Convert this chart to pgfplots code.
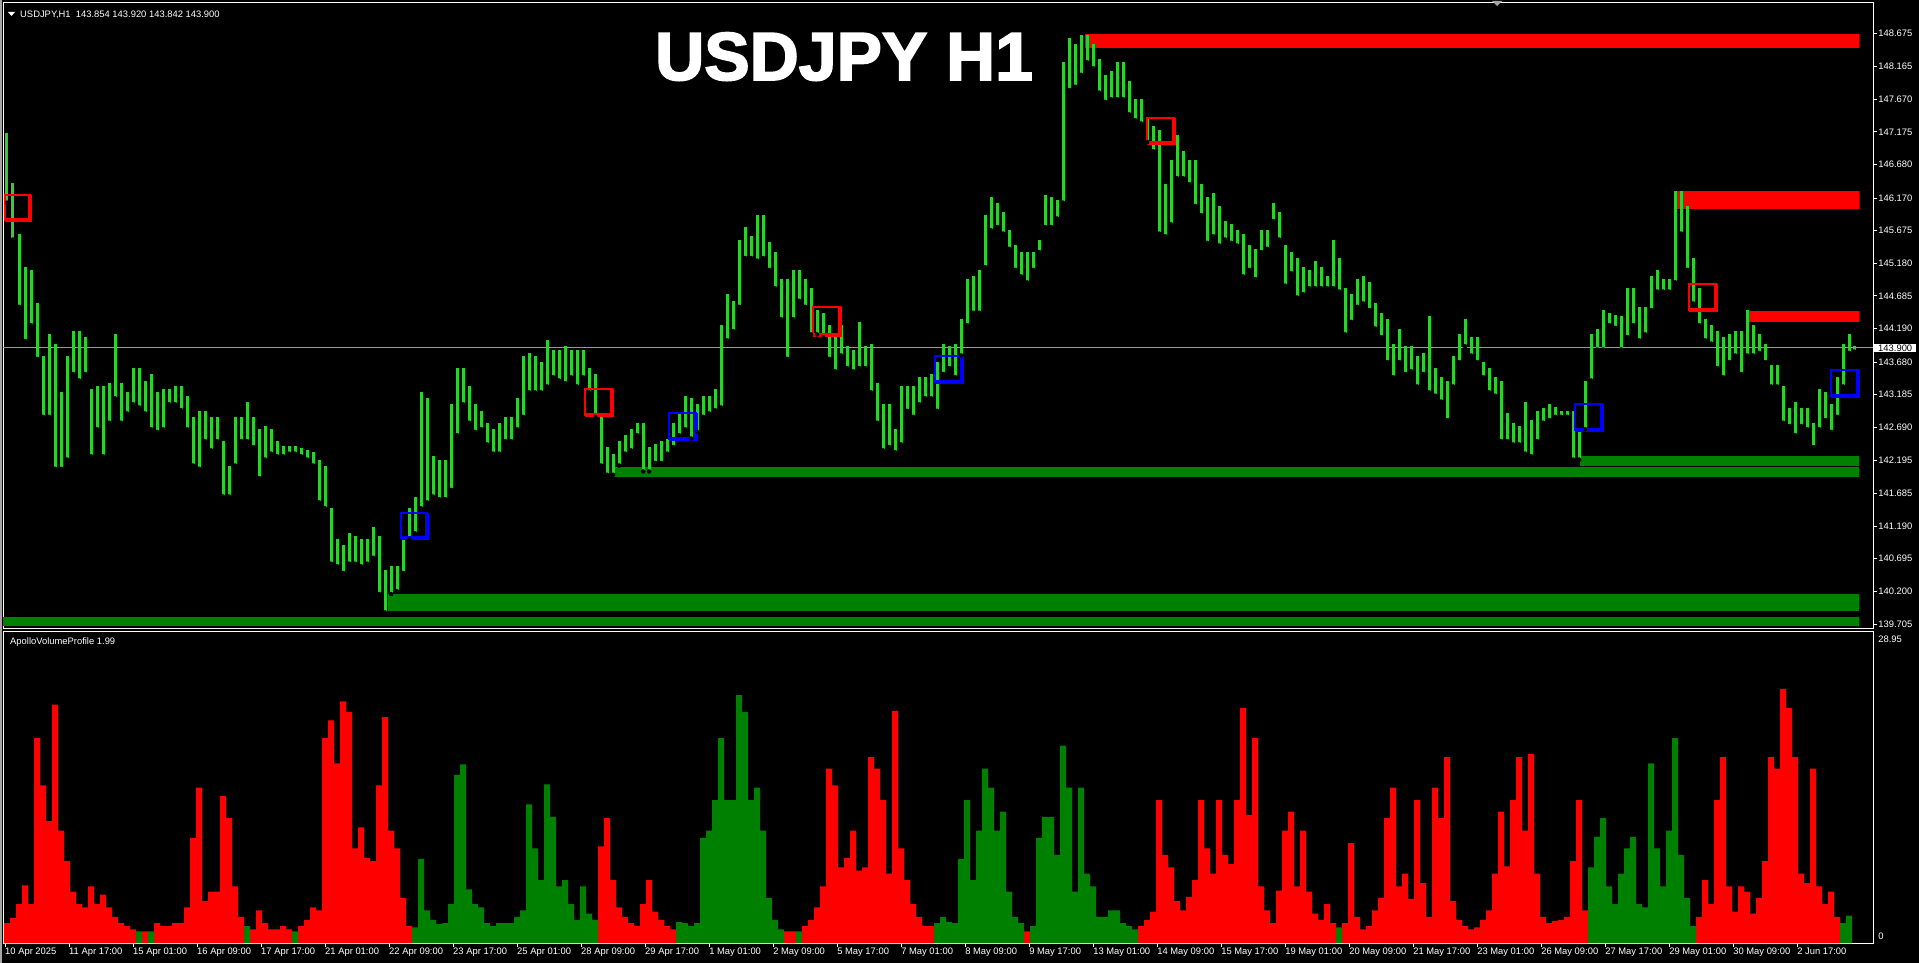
\documentclass[border=0pt]{standalone}
\usepackage{fontspec}
\setmainfont{Liberation Sans}
\newfontfamily\titlefont[FakeBold=2.5]{Liberation Sans Bold}
\usepackage{pgfplots}
\pgfplotsset{compat=1.18}
\usepackage{pgfplotstable}
\definecolor{pg}{RGB}{50,205,50}
\definecolor{zg}{RGB}{0,128,0}
\definecolor{vr}{RGB}{255,0,0}
\definecolor{bl}{RGB}{0,0,255}
\newcommand\tf{\fontsize{9.4}{10}\selectfont}

\pgfplotstableread{
x lo hi
1 146.10 147.16
4 145.54 146.40
7 144.52 145.63
10 144.00 145.12
13 144.24 145.08
16 143.73 144.57
19 142.85 143.78
22 142.85 144.10
25 142.06 143.96
28 142.06 143.22
31 142.20 143.78
34 143.50 144.15
37 143.40 144.15
40 143.50 144.06
43 142.25 143.27
46 142.66 143.31
49 142.25 143.31
52 142.76 143.36
55 143.13 144.10
58 142.76 143.36
61 142.90 143.22
64 143.04 143.59
67 142.99 143.59
70 142.90 143.40
73 142.66 143.50
76 142.62 143.22
79 142.66 143.27
82 143.04 143.27
85 143.04 143.31
88 142.95 143.31
91 142.66 143.17
94 142.11 142.85
97 142.06 142.94
100 142.48 142.94
103 142.34 142.85
106 142.48 142.85
109 141.64 142.48
112 141.64 142.11
115 142.11 142.85
118 142.48 142.85
121 142.48 143.08
124 142.39 142.85
127 141.92 142.66
130 142.20 142.71
133 142.29 142.66
136 142.25 142.48
139 142.25 142.40
142 142.29 142.40
145 142.29 142.40
148 142.25 142.38
151 142.20 142.34
154 142.11 142.31
157 141.55 142.20
160 141.46 142.11
163 140.62 141.46
166 140.58 140.99
169 140.48 140.90
172 140.62 141.08
175 140.62 141.04
178 140.58 140.99
181 140.62 140.99
184 140.71 141.18
187 140.16 141.04
190 139.88 140.53
193 140.16 140.58
196 140.20 140.58
199 140.48 140.99
202 140.99 141.46
205 141.08 141.64
208 141.46 143.22
211 141.55 143.13
214 141.64 142.25
217 141.60 142.20
220 141.60 142.20
223 141.74 143.04
226 142.57 143.59
229 143.04 143.59
232 142.76 143.31
235 142.62 143.04
238 142.66 142.94
241 142.43 142.76
244 142.29 142.66
247 142.29 142.76
250 142.48 142.85
253 142.48 142.85
256 142.66 143.13
259 142.85 143.78
262 143.22 143.82
265 143.22 143.78
268 143.22 143.68
271 143.31 144.01
274 143.45 143.87
277 143.40 143.87
280 143.36 143.92
283 143.45 143.87
286 143.31 143.87
289 143.45 143.87
292 143.22 143.59
295 142.85 143.50
298 142.11 142.85
301 141.97 142.39
304 141.97 142.29
307 142.11 142.48
310 142.29 142.57
313 142.34 142.66
316 142.57 142.76
319 142.02 142.76
322 142.02 142.39
325 142.15 142.43
328 142.15 142.48
331 142.29 142.52
334 142.39 142.76
337 142.57 142.90
340 142.66 143.17
343 142.52 143.13
346 142.62 143.04
349 142.85 143.17
352 142.90 143.17
355 142.95 143.27
358 142.99 144.24
361 144.01 144.71
364 144.15 144.61
367 144.52 145.54
370 145.26 145.73
373 145.26 145.59
376 145.22 145.91
379 145.26 145.91
382 145.08 145.50
385 144.80 145.35
388 144.33 144.94
391 143.73 144.94
394 144.33 145.08
397 144.61 145.08
400 144.52 144.94
403 144.10 144.80
406 144.10 144.47
409 144.06 144.43
412 143.73 144.24
415 143.54 144.10
418 143.78 144.24
421 143.59 143.92
424 143.54 143.87
427 143.59 144.29
430 143.59 143.92
433 143.22 143.96
436 142.76 143.36
439 142.34 143.04
442 142.39 143.04
445 142.31 142.66
448 142.43 143.31
451 142.94 143.31
454 142.85 143.31
457 143.04 143.45
460 143.13 143.45
463 143.13 143.50
466 142.94 143.68
469 143.50 143.96
472 143.59 143.92
475 143.45 143.96
478 143.78 144.33
481 144.24 144.94
484 144.43 144.98
487 144.43 145.08
490 145.12 145.91
493 145.68 146.19
496 145.73 146.10
499 145.63 145.96
502 145.40 145.68
505 145.08 145.45
508 144.98 145.35
511 144.89 145.35
514 145.08 145.35
517 145.35 145.54
520 145.73 146.21
523 145.73 146.19
526 145.86 146.14
529 146.10 148.23
532 147.81 148.60
535 147.86 148.51
538 148.04 148.65
541 148.23 148.65
544 148.14 148.51
547 147.77 148.28
550 147.63 148.04
553 147.67 148.10
556 147.67 148.23
559 147.67 148.23
562 147.44 147.95
565 147.35 147.67
568 147.30 147.67
571 147.02 147.40
574 146.88 147.26
577 145.63 147.21
580 145.59 146.38
583 145.77 146.75
586 146.47 147.12
589 146.47 146.89
592 146.38 146.75
595 146.05 146.75
598 145.91 146.38
601 145.49 146.19
604 145.59 146.24
607 145.45 146.05
610 145.54 145.82
613 145.49 145.77
616 145.45 145.68
619 144.98 145.63
622 145.08 145.45
625 144.94 145.40
628 145.35 145.68
631 145.40 145.68
634 145.82 146.10
637 145.54 145.96
640 144.84 145.45
643 145.03 145.35
646 144.66 145.26
649 144.71 145.12
652 144.80 145.08
655 144.80 145.21
658 144.80 145.12
661 144.80 144.98
664 144.80 145.54
667 144.75 145.26
670 144.10 144.80
673 144.29 144.71
676 144.52 144.94
679 144.57 144.98
682 144.47 144.89
685 144.19 144.57
688 144.06 144.43
691 143.68 144.33
694 143.45 143.96
697 143.68 144.19
700 143.50 143.92
703 143.54 143.92
706 143.31 143.78
709 143.50 143.82
712 143.22 144.38
715 143.17 143.59
718 143.08 143.45
721 142.80 143.40
724 143.31 143.78
727 143.68 144.10
730 143.92 144.33
733 143.78 144.06
736 143.68 144.06
739 143.45 143.68
742 143.22 143.59
745 143.17 143.45
748 142.48 143.40
751 142.48 142.90
754 142.43 142.76
757 142.43 142.71
760 142.29 143.08
763 142.25 142.80
766 142.48 142.94
769 142.76 142.99
772 142.80 143.04
775 142.85 143.00
778 142.85 142.94
781 142.85 142.94
784 142.20 142.94
787 142.20 142.66
790 142.66 143.40
793 143.40 144.10
796 143.87 144.19
799 143.87 144.47
802 144.24 144.43
805 144.20 144.40
808 143.87 144.38
811 144.06 144.80
814 144.24 144.80
817 144.01 144.52
820 144.10 144.52
823 144.47 144.98
826 144.75 145.08
829 144.75 144.94
832 144.75 144.94
835 144.89 146.28
838 145.63 146.28
841 145.08 146.05
844 144.57 145.26
847 144.24 144.80
850 144.01 144.33
853 143.96 144.24
856 143.59 144.15
859 143.45 144.06
862 143.68 144.10
865 143.78 144.15
868 143.50 144.15
871 143.78 144.47
874 143.78 144.24
877 143.82 144.10
880 143.68 143.96
883 143.31 143.64
886 143.31 143.64
889 142.76 143.31
892 142.71 142.99
895 142.57 143.08
898 142.71 142.99
901 142.66 142.99
904 142.39 142.76
907 142.66 143.27
910 142.80 143.22
913 142.62 143.04
916 142.85 143.45
919 143.31 143.96
922 143.82 144.10
924.5 143.84 143.92
}\price

\pgfplotstableread{
x r g
1 1.9 0
4 2.4 0
7 3.7 0
10 5.5 0
13 3.7 0
16 19.5 0
19 15 0
22 11.6 0
25 22.7 0
28 10.7 0
31 7.8 0
34 4.9 0
37 3.7 0
40 3.4 0
43 5.4 0
46 3.7 0
49 4.6 0
52 3.4 0
55 2.5 0
58 1.9 0
61 1.6 0
64 1.3 0
67 0 1.1
70 1.1 0
73 0 1.1
76 1.9 0
79 1.6 0
82 1.6 0
85 1.9 0
88 1.9 0
91 3.4 0
94 10 0
97 14.8 0
100 4.0 0
103 4.9 0
106 4.9 0
109 14 0
112 11.9 0
115 5.4 0
118 2.5 0
121 0 1.6
124 1.3 0
127 3.1 0
130 1.9 0
133 1.3 0
136 1.3 0
139 1.6 0
142 1.3 0
145 0 1.1
148 1.6 0
151 2.2 0
154 3.4 0
157 3.1 0
160 19.5 0
163 21.2 0
166 17.1 0
169 23 0
172 22 0
175 9.0 0
178 11.0 0
181 8.1 0
184 7.8 0
187 15 0
190 21.5 0
193 10.7 0
196 9.0 0
199 4.3 0
202 1.6 0
205 0 1.5
208 0 8
211 0 3.1
214 0 2.2
217 0 1.8
220 0 1.9
223 0 3.7
226 0 16.0
229 0 17
232 0 5.1
235 0 3.7
238 0 3.4
241 0 1.9
244 0 1.6
247 0 1.9
250 0 1.9
253 0 1.9
256 0 2.5
259 0 3.1
262 0 13.2
265 0 9.0
268 0 6.0
271 0 15.1
274 0 12
277 0 5.4
280 0 6.0
283 0 3.7
286 0 2.2
289 0 5.4
292 0 2.8
295 0 2.2
298 9.2 0
301 11.9 0
304 6.0 0
307 3.4 0
310 2.5 0
313 1.9 0
316 1.6 0
319 3.7 0
322 6.0 0
325 3.0 0
328 2.2 0
331 1.6 0
334 1.3 0
337 0 2.0
340 0 1.9
343 0 1.6
346 0 1.9
349 0 10
352 0 10.7
355 0 13.6
358 0 19.5
361 0 13.6
364 0 13.6
367 0 23.6
370 0 22
373 0 13.6
376 0 14.8
379 0 10.7
382 0 4.3
385 0 2.2
388 0 1.3
391 1.1 0
394 1.1 0
397 0 1.1
400 1.6 0
403 2.2 0
406 3.4 0
409 5.4 0
412 16.6 0
415 15 0
418 7.2 0
421 8.1 0
424 10.7 0
427 6.9 0
430 7.2 0
433 17.7 0
436 16.6 0
439 13.6 0
442 6.6 0
445 22.1 0
448 9.0 0
451 6.0 0
454 3.7 0
457 2.5 0
460 1.6 0
463 1.6 0
466 0 1.9
469 0 2.5
472 0 2.0
475 0 1.9
478 0 8
481 0 13.6
484 0 6.0
487 0 10.7
490 0 16.6
493 0 14.8
496 0 10.7
499 0 12.5
502 0 4.9
505 0 2.5
508 0 1.9
511 1.1 0
514 0 1.6
517 0 10
520 0 12
523 0 12
526 0 8.4
529 0 18.8
532 0 14.8
535 0 4.9
538 0 14.8
541 0 6.6
544 0 5.4
547 0 2.5
550 0 2.5
553 0 3.1
556 0 3.1
559 0 1.9
562 0 1.6
565 0 1.3
568 1.6 0
571 2.2 0
574 3.0 0
577 13.6 0
580 8.4 0
583 7.2 0
586 4.0 0
589 3.1 0
592 4.4 0
595 6.0 0
598 13.6 0
601 9.0 0
604 6.6 0
607 13.6 0
610 8.4 0
613 7.5 0
616 13.6 0
619 22.4 0
622 12.2 0
625 19.5 0
628 5.4 0
631 3.1 0
634 1.9 0
637 5.0 0
640 10.7 0
643 12.5 0
646 5.4 0
649 10.7 0
652 4.9 0
655 2.8 0
658 2.2 0
661 3.7 0
664 1.9 0
667 0 1.5
670 1.9 0
673 9.5 0
676 2.5 0
679 1.3 0
682 1.6 0
685 3.1 0
688 4.3 0
691 11.9 0
694 14.8 0
697 5.4 0
700 6.6 0
703 4.2 0
706 13.6 0
709 5.7 0
712 2.5 0
715 14.8 0
718 11.9 0
721 17.7 0
724 4.0 0
727 2.2 0
730 1.6 0
733 1.3 0
736 1.5 0
739 2.2 0
742 3.1 0
745 6.6 0
748 12.5 0
751 7.3 0
754 13.6 0
757 17.7 0
760 10.7 0
763 18.0 0
766 6.6 0
769 2.5 0
772 1.9 0
775 2.1 0
778 2.2 0
781 2.5 0
784 7.8 0
787 13.6 0
790 3.1 0
793 0 7.2
796 0 10.1
799 0 11.9
802 0 5.4
805 0 3.7
808 0 6.6
811 0 9.0
814 0 10.1
817 0 3.7
820 0 3.4
823 0 17.1
826 0 9.0
829 0 5.4
832 0 10.7
835 0 19.5
838 0 8.4
841 0 4.3
844 0 1.6
847 2.5 0
850 6.0 0
853 3.7 0
856 13.6 0
859 17.7 0
862 5.4 0
865 3.0 0
868 5.4 0
871 4.9 0
874 2.8 0
877 4.3 0
880 7.8 0
883 17.7 0
886 16.6 0
889 24.2 0
892 22.4 0
895 17.7 0
898 6.6 0
901 5.7 0
904 16.6 0
907 5.4 0
910 3.7 0
913 4.9 0
916 2.5 0
919 0 1.9
922 0 2.6
}\vol

\begin{document}
\begin{tikzpicture}
\fill[black] (0pt,0pt) rectangle (1919pt,-963pt);
\fill[gray!70] (0pt,0pt) rectangle (2pt,-963pt);

% ---------- price panel ----------
\begin{axis}[
  at={(3pt,-628pt)}, anchor=south west,
  scale only axis, width=1870pt, height=626pt,
  xmin=-1, xmax=934, ymin=139.644, ymax=149.146,
  axis line style={white, line width=0.8pt},
  xtick=\empty,
  ytick={148.675,148.165,147.670,147.175,146.680,146.170,145.675,145.180,144.685,144.190,143.680,143.185,142.690,142.195,141.685,141.190,140.695,140.200,139.705},
  yticklabels={148.675,148.165,147.670,147.175,146.680,146.170,145.675,145.180,144.685,144.190,143.680,143.185,142.690,142.195,141.685,141.190,140.695,140.200,139.705},
  ytick pos=right, yticklabel pos=right,
  tick align=outside, major tick length=4pt,
  ytick style={white, line width=0.8pt},
  yticklabel style={text=white, font=\tf, anchor=west, inner sep=0pt, xshift=1pt},
  clip=true,
]
% zones
\addplot[fill=vr, draw=none, forget plot] coordinates {(540,148.45) (927,148.45) (927,148.66) (540,148.66)} -- cycle;
\addplot[fill=vr, draw=none, forget plot] coordinates {(835,146.00) (927,146.00) (927,146.28) (835,146.28)} -- cycle;
\addplot[fill=vr, draw=none, forget plot] coordinates {(872,144.29) (927,144.29) (927,144.45) (872,144.45)} -- cycle;
\addplot[fill=zg, draw=none, forget plot] coordinates {(787.5,142.11) (927,142.11) (927,142.25) (787.5,142.25)} -- cycle;
\addplot[fill=zg, draw=none, forget plot] coordinates {(303.5,141.94) (927,141.94) (927,142.09) (303.5,142.09)} -- cycle;
\addplot[fill=zg, draw=none, forget plot] coordinates {(191.5,139.90) (927,139.90) (927,140.16) (191.5,140.16)} -- cycle;
\addplot[fill=zg, draw=none, forget plot] coordinates {(-1,139.68) (927,139.68) (927,139.81) (-1,139.81)} -- cycle;
% current price line
\addplot[color=gray!80, line width=0.7pt, forget plot] coordinates {(-1,143.9) (934,143.9)};
% price bars (low-high range per 3-bar group)
\addplot[only marks, mark=none, forget plot,
  error bars/.cd, y dir=plus, y explicit, error mark=none,
  error bar style={draw=pg, line width=3pt}]
  table[x=x, y=lo, y error expr=\thisrow{hi}-\thisrow{lo}] {\price};
% signal boxes
\addplot[draw=vr, line width=2pt, forget plot] coordinates {(0,145.84) (12.5,145.84) (12.5,146.22) (0,146.22)} -- cycle;
\addplot[draw=vr, line width=4pt, forget plot] coordinates {(12.5,146.22) (12.5,145.84) (0,145.84)};
\addplot[draw=vr, line width=2pt, forget plot] coordinates {(290,142.88) (303.5,142.88) (303.5,143.27) (290,143.27)} -- cycle;
\addplot[draw=vr, line width=4pt, forget plot] coordinates {(303.5,143.27) (303.5,142.88) (290,142.88)};
\addplot[draw=vr, line width=2pt, forget plot] coordinates {(404,144.09) (417.5,144.09) (417.5,144.52) (404,144.52)} -- cycle;
\addplot[draw=vr, line width=4pt, forget plot] coordinates {(417.5,144.52) (417.5,144.09) (404,144.09)};
\addplot[draw=vr, line width=2pt, forget plot] coordinates {(571,147.00) (584.5,147.00) (584.5,147.38) (571,147.38)} -- cycle;
\addplot[draw=vr, line width=4pt, forget plot] coordinates {(584.5,147.38) (584.5,147.00) (571,147.00)};
\addplot[draw=vr, line width=2pt, forget plot] coordinates {(842,144.47) (855.5,144.47) (855.5,144.87) (842,144.87)} -- cycle;
\addplot[draw=vr, line width=4pt, forget plot] coordinates {(855.5,144.87) (855.5,144.47) (842,144.47)};
\addplot[draw=bl, line width=2pt, forget plot] coordinates {(198,141.01) (211,141.01) (211,141.39) (198,141.39)} -- cycle;
\addplot[draw=bl, line width=4pt, forget plot] coordinates {(211,141.39) (211,141.01) (198,141.01)};
\addplot[draw=bl, line width=2pt, forget plot] coordinates {(332,142.51) (345.5,142.51) (345.5,142.91) (332,142.91)} -- cycle;
\addplot[draw=bl, line width=4pt, forget plot] coordinates {(345.5,142.91) (345.5,142.51) (332,142.51)};
\addplot[draw=bl, line width=2pt, forget plot] coordinates {(465,143.38) (478.5,143.38) (478.5,143.77) (465,143.77)} -- cycle;
\addplot[draw=bl, line width=4pt, forget plot] coordinates {(478.5,143.77) (478.5,143.38) (465,143.38)};
\addplot[draw=bl, line width=2pt, forget plot] coordinates {(785,142.65) (798.5,142.65) (798.5,143.04) (785,143.04)} -- cycle;
\addplot[draw=bl, line width=4pt, forget plot] coordinates {(798.5,143.04) (798.5,142.65) (785,142.65)};
\addplot[draw=bl, line width=2pt, forget plot] coordinates {(913,143.17) (926.5,143.17) (926.5,143.56) (913,143.56)} -- cycle;
\addplot[draw=bl, line width=4pt, forget plot] coordinates {(926.5,143.56) (926.5,143.17) (913,143.17)};
\end{axis}

% ---------- volume panel ----------
\begin{axis}[
  at={(3pt,-943pt)}, anchor=south west,
  scale only axis, width=1870pt, height=312pt,
  xmin=-1, xmax=934, ymin=0, ymax=29.71,
  axis line style={white, line width=0.8pt},
  xtick={0,32,...,896},
  xticklabels={10 Apr 2025,11 Apr 17:00,15 Apr 01:00,16 Apr 09:00,17 Apr 17:00,21 Apr 01:00,22 Apr 09:00,23 Apr 17:00,25 Apr 01:00,28 Apr 09:00,29 Apr 17:00,1 May 01:00,2 May 09:00,5 May 17:00,7 May 01:00,8 May 09:00,9 May 17:00,13 May 01:00,14 May 09:00,15 May 17:00,19 May 01:00,20 May 09:00,21 May 17:00,23 May 01:00,26 May 09:00,27 May 17:00,29 May 01:00,30 May 09:00,2 Jun 17:00},
  xtick pos=bottom, tick align=outside, major tick length=4pt,
  xtick style={white, line width=0.8pt},
  xticklabel style={text=white, font=\tf, anchor=north west, inner sep=0pt, xshift=0pt, yshift=-1pt},
  ytick={0.65,28.95}, yticklabels={0,28.95},
  ytick pos=right, yticklabel pos=right,
  ytick style={draw=none},
  yticklabel style={text=white, font=\tf, anchor=west, inner sep=0pt, xshift=1pt},
]
\addplot[ybar, bar width=3, bar shift=0pt, fill=vr, draw=none, forget plot] table[x=x, y=r] {\vol};
\addplot[ybar, bar width=3, bar shift=0pt, fill=zg, draw=none, forget plot] table[x=x, y=g] {\vol};
\end{axis}

% ---------- texts ----------
\fill[white] (8pt,-12pt) -- (15pt,-12pt) -- (11.5pt,-16pt) -- cycle;
\node[anchor=west, text=white, font=\tf, inner sep=0pt] at (20pt,-15pt) {USDJPY,H1\ \ 143.854 143.920 143.842 143.900};
\node[anchor=west, text=white, font=\tf, inner sep=0pt] at (10pt,-642pt) {ApolloVolumeProfile 1.99};
\node[anchor=base west, text=white, font=\titlefont\fontsize{68}{68}\selectfont, inner sep=0pt] at (655pt,-80pt) {USDJPY H1};
\node[anchor=west, fill=white, text=black, font=\tf, inner sep=1pt, minimum width=42pt] at (1874pt,-348pt) {143.900};
\fill[gray!70] (1492pt,-1pt) -- (1502pt,-1pt) -- (1497pt,-6pt) -- cycle;
\end{tikzpicture}
\end{document}
